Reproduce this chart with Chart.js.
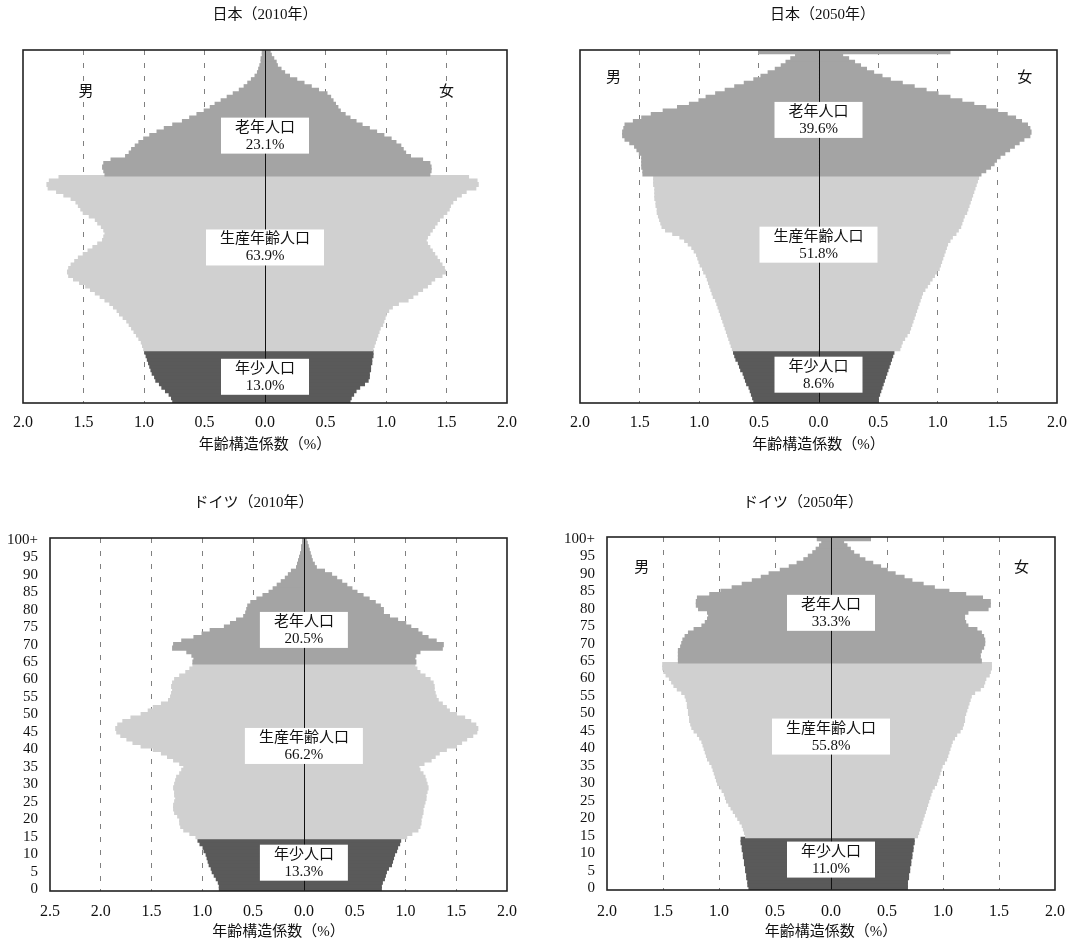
<!DOCTYPE html>
<html>
<head>
<meta charset="utf-8">
<script src="https://cdn.jsdelivr.net/npm/chart.js@4.4.1/dist/chart.umd.min.js"></script>
<style>
  body { margin: 0; background: #fff; width: 1077px; height: 944px; position: relative; overflow: hidden; }
  .pane { position: absolute; }
</style>
</head>
<body>
<div class="pane" style="left:0;top:0"><canvas id="jp2010" width="540" height="470"></canvas></div>
<div class="pane" style="left:540px;top:0"><canvas id="jp2050" width="537" height="470"></canvas></div>
<div class="pane" style="left:0;top:470px"><canvas id="de2010" width="540" height="474"></canvas></div>
<div class="pane" style="left:540px;top:470px"><canvas id="de2050" width="537" height="474"></canvas></div>
<script>
// ages 0 .. 100 (100 = 100+)
var ages = [];
for (var a = 0; a <= 100; a++) ages.push(a);

var groupNames = ['老年人口', '生産年齢人口', '年少人口'];

// 年齢構造係数 (%) by single year of age, index = age
var jp2010Male = [
  0.76, 0.77, 0.79, 0.82, 0.85, 0.87, 0.90, 0.91, 0.93, 0.94,
  0.95, 0.96, 0.97, 0.98, 0.99, 1.00, 1.01, 1.02, 1.04, 1.06,
  1.08, 1.10, 1.12, 1.14, 1.17, 1.20, 1.22, 1.25, 1.28, 1.32,
  1.36, 1.40, 1.44, 1.48, 1.53, 1.58, 1.62, 1.63, 1.62, 1.60,
  1.57, 1.54, 1.50, 1.46, 1.42, 1.38, 1.34, 1.33, 1.32, 1.33,
  1.35, 1.38, 1.40, 1.45, 1.50, 1.52, 1.54, 1.56, 1.60, 1.66,
  1.72, 1.79, 1.80, 1.78, 1.70, 1.32, 1.33, 1.34, 1.33, 1.27,
  1.15, 1.12, 1.10, 1.07, 1.04, 1.00, 0.95, 0.89, 0.83, 0.76,
  0.68, 0.62, 0.56, 0.50, 0.45, 0.41, 0.36, 0.31, 0.26, 0.21,
  0.17, 0.14, 0.11, 0.08, 0.06, 0.05, 0.04, 0.03, 0.03, 0.02,
  0.02
];
var jp2010Female = [
  0.70, 0.71, 0.73, 0.75, 0.78, 0.82, 0.85, 0.86, 0.86, 0.87,
  0.87, 0.88, 0.88, 0.89, 0.89, 0.89, 0.90, 0.91, 0.92, 0.93,
  0.94, 0.95, 0.97, 0.98, 0.99, 1.00, 1.02, 1.05, 1.10, 1.18,
  1.22, 1.26, 1.30, 1.34, 1.37, 1.40, 1.46, 1.49, 1.48, 1.46,
  1.44, 1.42, 1.40, 1.38, 1.36, 1.34, 1.33, 1.34, 1.36, 1.38,
  1.40, 1.42, 1.44, 1.47, 1.50, 1.52, 1.53, 1.55, 1.58, 1.62,
  1.66, 1.74, 1.76, 1.75, 1.68, 1.36, 1.37, 1.37, 1.36, 1.30,
  1.20, 1.16, 1.14, 1.12, 1.08, 1.04, 0.98, 0.92, 0.86, 0.80,
  0.75, 0.70, 0.66, 0.62, 0.60, 0.58, 0.56, 0.54, 0.51, 0.44,
  0.38, 0.32, 0.26, 0.20, 0.16, 0.13, 0.10, 0.09, 0.07, 0.05,
  0.04
];
var jp2050Male = [
  0.54, 0.55, 0.56, 0.57, 0.58, 0.60, 0.61, 0.62, 0.63, 0.65,
  0.66, 0.67, 0.69, 0.70, 0.71, 0.72, 0.73, 0.74, 0.75, 0.76,
  0.77, 0.78, 0.79, 0.80, 0.81, 0.82, 0.83, 0.84, 0.85, 0.86,
  0.88, 0.89, 0.90, 0.91, 0.92, 0.93, 0.94, 0.96, 0.97, 0.99,
  1.00, 1.01, 1.02, 1.04, 1.06, 1.09, 1.12, 1.16, 1.22, 1.28,
  1.31, 1.32, 1.33, 1.34, 1.35, 1.35, 1.36, 1.36, 1.37, 1.37,
  1.37, 1.37, 1.38, 1.38, 1.38, 1.47, 1.47, 1.48, 1.48, 1.48,
  1.48, 1.50, 1.52, 1.54, 1.58, 1.62, 1.64, 1.64, 1.63, 1.62,
  1.55, 1.48, 1.40, 1.30, 1.18, 1.08, 1.00, 0.94, 0.86, 0.78,
  0.70, 0.62, 0.54, 0.48, 0.42, 0.36, 0.31, 0.27, 0.23, 0.19,
  0.50
];
var jp2050Female = [
  0.50, 0.50, 0.51, 0.52, 0.53, 0.54, 0.55, 0.56, 0.57, 0.58,
  0.59, 0.60, 0.61, 0.62, 0.63, 0.68, 0.69, 0.70, 0.72, 0.74,
  0.76, 0.77, 0.78, 0.79, 0.80, 0.81, 0.82, 0.83, 0.84, 0.85,
  0.86, 0.87, 0.89, 0.91, 0.93, 0.95, 0.97, 0.99, 1.01, 1.02,
  1.03, 1.04, 1.05, 1.06, 1.07, 1.08, 1.10, 1.12, 1.15, 1.17,
  1.19, 1.20, 1.21, 1.22, 1.24, 1.25, 1.26, 1.27, 1.28, 1.29,
  1.30, 1.31, 1.32, 1.33, 1.34, 1.36, 1.40, 1.44, 1.47, 1.49,
  1.52, 1.56, 1.60, 1.64, 1.68, 1.72, 1.77, 1.78, 1.77, 1.75,
  1.70, 1.65, 1.58, 1.50, 1.40, 1.30, 1.20, 1.10, 1.00, 0.90,
  0.80, 0.70, 0.60, 0.53, 0.46, 0.40, 0.35, 0.30, 0.25, 0.20,
  1.10
];
var de2010Male = [
  0.83, 0.83, 0.84, 0.86, 0.88, 0.90, 0.91, 0.93, 0.94, 0.95,
  0.96, 0.98, 0.99, 1.02, 1.04, 1.06, 1.12, 1.18, 1.21, 1.22,
  1.22, 1.24, 1.27, 1.28, 1.28, 1.27, 1.26, 1.27, 1.27, 1.28,
  1.27, 1.26, 1.25, 1.22, 1.20, 1.18, 1.22, 1.28, 1.34, 1.40,
  1.48, 1.60, 1.68, 1.74, 1.80, 1.84, 1.85, 1.83, 1.78, 1.70,
  1.60, 1.53, 1.48, 1.40, 1.33, 1.31, 1.30, 1.29, 1.30, 1.29,
  1.27, 1.22, 1.16, 1.12, 1.09, 1.09, 1.08, 1.10, 1.15, 1.29,
  1.28, 1.20, 1.08, 1.00, 0.92, 0.78, 0.72, 0.66, 0.59, 0.57,
  0.56, 0.55, 0.52, 0.46, 0.40, 0.34, 0.30, 0.26, 0.22, 0.18,
  0.15, 0.12, 0.07, 0.06, 0.05, 0.04, 0.03, 0.02, 0.02, 0.01,
  0.01
];
var de2010Female = [
  0.76, 0.76, 0.77, 0.79, 0.80, 0.81, 0.83, 0.86, 0.87, 0.88,
  0.89, 0.91, 0.92, 0.94, 0.95, 1.01, 1.06, 1.12, 1.14, 1.15,
  1.15, 1.16, 1.17, 1.17, 1.18, 1.19, 1.20, 1.20, 1.21, 1.22,
  1.21, 1.20, 1.19, 1.17, 1.14, 1.13, 1.18, 1.25, 1.29, 1.33,
  1.40, 1.50, 1.55, 1.60, 1.66, 1.70, 1.71, 1.69, 1.64, 1.58,
  1.50, 1.43, 1.40, 1.36, 1.32, 1.30, 1.29, 1.28, 1.28, 1.27,
  1.24, 1.19, 1.14, 1.11, 1.09, 1.10, 1.09, 1.10, 1.14, 1.36,
  1.37, 1.30, 1.22, 1.16, 1.12, 1.05, 1.00, 0.92, 0.84, 0.78,
  0.78, 0.75, 0.70, 0.64, 0.58, 0.52, 0.47, 0.42, 0.37, 0.32,
  0.27, 0.20, 0.12, 0.10, 0.08, 0.07, 0.06, 0.05, 0.04, 0.03,
  0.02
];
var de2050Male = [
  0.73, 0.74, 0.74, 0.75, 0.75, 0.76, 0.76, 0.77, 0.77, 0.78,
  0.78, 0.79, 0.79, 0.80, 0.80, 0.76, 0.77, 0.78, 0.79, 0.81,
  0.83, 0.85, 0.87, 0.89, 0.91, 0.93, 0.94, 0.95, 0.97, 0.99,
  1.01, 1.02, 1.03, 1.04, 1.05, 1.06, 1.08, 1.10, 1.11, 1.12,
  1.13, 1.14, 1.15, 1.17, 1.19, 1.22, 1.24, 1.25, 1.26, 1.26,
  1.27, 1.27, 1.28, 1.28, 1.29, 1.30, 1.33, 1.37, 1.40, 1.42,
  1.44, 1.47, 1.49, 1.50, 1.50, 1.36, 1.36, 1.36, 1.36, 1.34,
  1.33, 1.32, 1.30, 1.27, 1.22, 1.15, 1.12, 1.10, 1.09, 1.10,
  1.18, 1.20, 1.20, 1.19, 1.08, 0.98, 0.88, 0.79, 0.70, 0.62,
  0.55, 0.45, 0.37, 0.30, 0.24, 0.20, 0.16, 0.13, 0.10, 0.08,
  0.12
];
var de2050Female = [
  0.68, 0.68, 0.68, 0.69, 0.69, 0.70, 0.70, 0.71, 0.71, 0.72,
  0.72, 0.73, 0.73, 0.74, 0.74, 0.77, 0.78, 0.79, 0.80, 0.81,
  0.82, 0.83, 0.84, 0.85, 0.86, 0.87, 0.88, 0.89, 0.90, 0.92,
  0.94, 0.95, 0.96, 0.97, 0.98, 0.99, 1.01, 1.03, 1.04, 1.05,
  1.06, 1.07, 1.08, 1.10, 1.12, 1.15, 1.17, 1.18, 1.19, 1.19,
  1.20, 1.21, 1.22, 1.23, 1.24, 1.25, 1.28, 1.33, 1.36, 1.37,
  1.38, 1.41, 1.42, 1.43, 1.43, 1.34, 1.33, 1.33, 1.34, 1.36,
  1.37, 1.37, 1.36, 1.34, 1.30, 1.22, 1.20, 1.19, 1.19, 1.22,
  1.40, 1.42, 1.42, 1.35, 1.20, 1.05, 0.92, 0.82, 0.72, 0.65,
  0.57, 0.50, 0.44, 0.37, 0.30, 0.25, 0.20, 0.17, 0.14, 0.11,
  0.35
];

// shares of 老年 / 生産年齢 / 年少
var jp2010Shares = ['23.1%', '63.9%', '13.0%'];
var jp2050Shares = ['39.6%', '51.8%', '8.6%'];
var de2010Shares = ['20.5%', '66.2%', '13.3%'];
var de2050Shares = ['33.3%', '55.8%', '11.0%'];

var FONT = "'Liberation Serif', 'Noto Sans CJK JP', serif";

function shade(age) {
  if (age < 15) return '#5a5a5a';
  if (age < 65) return '#d0d0d0';
  return '#a4a4a4';
}

// frame, zero line and the white label boxes
var decor = {
  id: 'pyramidDecor',
  afterDatasetsDraw: function(chart, args, o) {
    var ctx = chart.ctx, area = chart.chartArea;
    var xs = chart.scales.x, ys = chart.scales.y;
    ctx.save();
    var x0 = Math.round(xs.getPixelForValue(0)) + 0.5;
    ctx.strokeStyle = '#111';
    ctx.lineWidth = 1;
    ctx.beginPath();
    ctx.moveTo(x0, area.top);
    ctx.lineTo(x0, area.bottom);
    ctx.stroke();

    ctx.lineWidth = 1.6;
    ctx.strokeStyle = '#222';
    ctx.strokeRect(area.left, area.top, area.right - area.left, area.bottom - area.top);

    ctx.font = '15px ' + FONT;
    ctx.textAlign = 'center';
    ctx.textBaseline = 'middle';
    groupNames.forEach(function(name, i) {
      var cx = xs.getPixelForValue(0);
      var cy = ys.getPixelForValue(o.at[i]);
      var w = Math.max(ctx.measureText(name).width, ctx.measureText(o.shares[i]).width) + 28;
      ctx.fillStyle = '#fff';
      ctx.fillRect(cx - w / 2, cy - 18, w, 36);
      ctx.fillStyle = '#111';
      ctx.fillText(name, cx, cy - 8);
      ctx.fillText(o.shares[i], cx, cy + 9);
    });

    (o.sex || []).forEach(function(s) {
      ctx.fillStyle = '#111';
      ctx.fillText(s.text, xs.getPixelForValue(s.x), ys.getPixelForValue(s.age));
    });
    ctx.restore();
  }
};

function pyramid(id, opt) {
  return new Chart(document.getElementById(id), {
    type: 'bar',
    data: {
      labels: ages,
      datasets: [
        { label: '男', data: opt.male.map(function(v) { return -v; }), backgroundColor: ages.map(shade) },
        { label: '女', data: opt.female, backgroundColor: ages.map(shade) }
      ]
    },
    options: {
      indexAxis: 'y',
      responsive: false,
      animation: false,
      datasets: { bar: { barPercentage: 1, categoryPercentage: 1, borderWidth: 0, inflateAmount: 0.8 } },
      layout: { padding: { left: opt.padLeft, right: opt.padRight, top: 0, bottom: 0 } },
      plugins: {
        legend: { display: false },
        tooltip: { enabled: false },
        title: {
          display: true, text: opt.title, color: '#111',
          font: { family: FONT, size: 15, weight: 'normal', lineHeight: 1.2 },
          padding: { top: opt.titleTop, bottom: opt.titleBottom }
        },
        pyramidDecor: { at: opt.labelAt, shares: opt.shares, sex: opt.sex }
      },
      scales: {
        x: {
          min: opt.min, max: 2, stacked: true,
          grid: {
            drawTicks: false, lineWidth: 1,
            color: function(c) {
              var v = c.tick ? c.tick.value : 0;
              return (v === 0 || v === opt.min || v === 2) ? 'rgba(0,0,0,0)' : '#808080';
            }
          },
          border: { display: false, dash: [5, 8] },
          ticks: {
            stepSize: 0.5, maxRotation: 0, autoSkip: false, padding: opt.tickPad,
            color: '#111', font: { family: FONT, size: 16, lineHeight: 1.2 },
            callback: function(v) { return Math.abs(v).toFixed(1); }
          },
          title: {
            display: true, text: '年齢構造係数（%）', color: '#111',
            font: { family: FONT, size: 15, lineHeight: 1.2 },
            padding: { top: 0, bottom: opt.axisTitlePad }
          },
          afterFit: function(s) { s.height = opt.xHeight; }
        },
        y: {
          stacked: true, reverse: true, display: opt.ageTicks,
          grid: { display: false, drawTicks: false },
          border: { display: false },
          ticks: {
            autoSkip: false, padding: 12, color: '#111',
            font: { family: FONT, size: 15, lineHeight: 1 },
            callback: function(v) {
              var age = ages[v];
              if (age % 5 !== 0) return '';
              return age === 100 ? '100+' : String(age);
            }
          },
          afterFit: function(s) { s.width = opt.yWidth; }
        }
      }
    },
    plugins: [decor]
  });
}

pyramid('jp2010', {
  title: '日本（2010年）', male: jp2010Male, female: jp2010Female, shares: jp2010Shares,
  min: -2, padLeft: 23, padRight: 33, titleTop: 6, titleBottom: 26,
  xHeight: 67, tickPad: 10, axisTitlePad: 16, ageTicks: false, yWidth: 0,
  labelAt: [76, 44, 7],
  sex: [{ text: '男', x: -1.48, age: 88.5 }, { text: '女', x: 1.5, age: 88.5 }]
});
pyramid('jp2050', {
  title: '日本（2050年）', male: jp2050Male, female: jp2050Female, shares: jp2050Shares,
  min: -2, padLeft: 40, padRight: 12, titleTop: 6, titleBottom: 26,
  xHeight: 67, tickPad: 10, axisTitlePad: 16, ageTicks: false, yWidth: 0,
  labelAt: [80.5, 44.8, 7.6],
  sex: [{ text: '男', x: -1.72, age: 92.5 }, { text: '女', x: 1.73, age: 92.5 }]
});
pyramid('de2010', {
  title: 'ドイツ（2010年）', male: de2010Male, female: de2010Female, shares: de2010Shares,
  min: -2.5, padLeft: 0, padRight: 33, titleTop: 24, titleBottom: 26,
  xHeight: 53, tickPad: 11, axisTitlePad: 3, ageTicks: true, yWidth: 50,
  labelAt: [74.2, 41, 7.6],
  sex: null
});
pyramid('de2050', {
  title: 'ドイツ（2050年）', male: de2050Male, female: de2050Female, shares: de2050Shares,
  min: -2, padLeft: 0, padRight: 11, titleTop: 24, titleBottom: 25,
  xHeight: 54, tickPad: 12, axisTitlePad: 3, ageTicks: true, yWidth: 67,
  labelAt: [78.8, 43.4, 8.2],
  sex: [{ text: '男', x: -1.69, age: 91.6 }, { text: '女', x: 1.7, age: 91.6 }]
});
</script>
</body>
</html>
